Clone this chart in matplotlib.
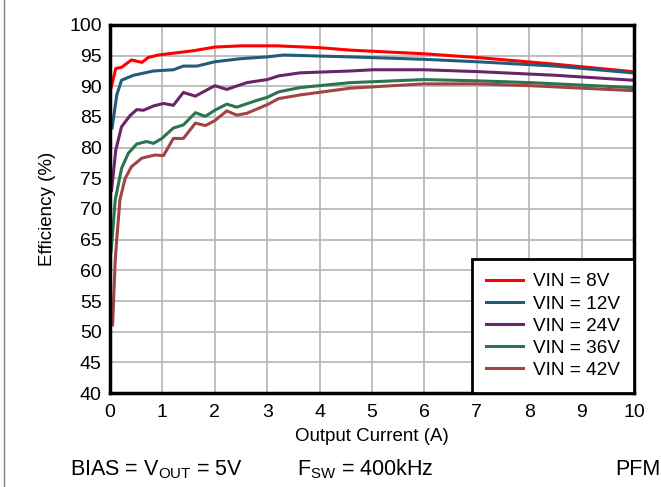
import matplotlib
matplotlib.use("Agg")
import matplotlib.pyplot as plt
from matplotlib.lines import Line2D

plt.rcParams.update({
    "font.family": ["Liberation Sans", "DejaVu Sans"],
    "mathtext.fontset": "custom",
    "mathtext.rm": "Liberation Sans",
    "mathtext.it": "Liberation Sans",
})

# Efficiency curves (output current A, efficiency %)
i_8v = [0.02, 0.11, 0.22, 0.41, 0.61, 0.73, 0.92, 1.59, 2.0, 2.5, 3.19, 4.0, 4.59, 6.0, 7.01, 8.5, 9.97]
e_8v = [89.7, 92.9, 93.1, 94.3, 93.9, 94.7, 95.1, 95.8, 96.4, 96.6, 96.6, 96.3, 95.9, 95.3, 94.7, 93.6, 92.4]

i_12v = [0.04, 0.13, 0.22, 0.45, 0.83, 1.21, 1.40, 1.66, 2.0, 2.49, 3.0, 3.31, 4.59, 6.0, 7.01, 8.5, 9.97]
e_12v = [83.2, 88.6, 91.0, 91.8, 92.5, 92.7, 93.3, 93.3, 94.0, 94.5, 94.8, 95.1, 94.8, 94.4, 94.0, 93.3, 92.2]

i_24v = [0.03, 0.11, 0.22, 0.38, 0.51, 0.64, 0.83, 1.02, 1.21, 1.40, 1.63, 2.0, 2.23, 2.61,
         3.0, 3.22, 3.63, 4.59, 5.03, 5.99, 7.01, 8.5, 9.97]
e_24v = [73.0, 79.6, 83.4, 85.2, 86.2, 86.1, 86.8, 87.2, 86.9, 89.0, 88.4, 90.1, 89.5, 90.6,
         91.1, 91.7, 92.2, 92.5, 92.7, 92.7, 92.4, 91.8, 91.0]

i_36v = [0.02, 0.06, 0.10, 0.22, 0.35, 0.51, 0.70, 0.83, 0.99, 1.21, 1.40, 1.63, 1.82, 2.0,
         2.23, 2.42, 2.80, 3.0, 3.22, 3.63, 4.59, 5.99, 7.01, 8.03, 9.97]
e_36v = [63.0, 67.1, 71.5, 76.6, 79.1, 80.6, 81.0, 80.7, 81.5, 83.2, 83.7, 85.7, 85.1, 86.1,
         87.1, 86.6, 87.7, 88.2, 89.1, 89.8, 90.6, 91.1, 90.9, 90.6, 89.8]

i_42v = [0.05, 0.10, 0.13, 0.19, 0.29, 0.41, 0.61, 0.86, 1.02, 1.21, 1.40, 1.63, 1.82, 2.0,
         2.23, 2.42, 2.61, 3.0, 3.22, 3.63, 4.59, 5.99, 7.01, 8.03, 9.97]
e_42v = [51.1, 61.7, 65.2, 71.5, 75.0, 76.9, 78.3, 78.8, 78.7, 81.5, 81.5, 84.0, 83.6, 84.4,
         86.0, 85.3, 85.6, 87.0, 88.0, 88.6, 89.7, 90.4, 90.4, 90.1, 89.3]

series = [
    ("VIN = 8V", i_8v, e_8v, "#FF0000"),
    ("VIN = 12V", i_12v, e_12v, "#235C78"),
    ("VIN = 24V", i_24v, e_24v, "#6A2468"),
    ("VIN = 36V", i_36v, e_36v, "#2C7450"),
    ("VIN = 42V", i_42v, e_42v, "#A24444"),
]

fig = plt.figure(figsize=(6.61, 4.87), dpi=100)
ax = fig.add_axes([0.1664, 0.193, 0.7926, 0.7557])

for label, x, y, c in series:
    ax.plot(x, y, color=c, lw=2.2, label=label, solid_joinstyle="round")

ax.set_xlim(0, 10)
ax.set_ylim(40, 100)
ax.set_xticks(range(0, 11))
ax.set_yticks(range(40, 101, 5))
ax.grid(True, color="#B4B4B4", lw=1.2)
ax.set_axisbelow(True)
for s in ax.spines.values():
    s.set_linewidth(2.5)
    s.set_color("black")
ax.tick_params(length=0, labelsize=14)
ax.tick_params(axis="x", pad=8)
ax.tick_params(axis="y", pad=6)
ax.set_xlabel("Output Current (A)", fontsize=13.5)
ax.set_ylabel("Efficiency (%)", fontsize=13.5)
ax.xaxis.set_label_coords(0.5, -0.095)
ax.yaxis.set_label_coords(-0.103, 0.5)

leg = ax.legend(loc="lower right", fontsize=13.7, fancybox=False, framealpha=1,
                edgecolor="black", borderpad=0.75, handlelength=1.95,
                handletextpad=0.5, labelspacing=0.25, borderaxespad=0.0)
leg.get_frame().set_linewidth(2.0)

fig.text(0.106, 0.024, r"BIAS = V$_{\mathrm{OUT}}$ = 5V", fontsize=15.5)
fig.text(0.449, 0.024, r"F$_{\mathrm{SW}}$ = 400kHz", fontsize=15.5)
fig.text(0.999, 0.024, "PFM", fontsize=15.5, ha="right")

fig.add_artist(Line2D([0.006, 0.006], [0, 1], transform=fig.transFigure,
                      color="#808080", lw=1))

fig.savefig("out.png", dpi=100)
